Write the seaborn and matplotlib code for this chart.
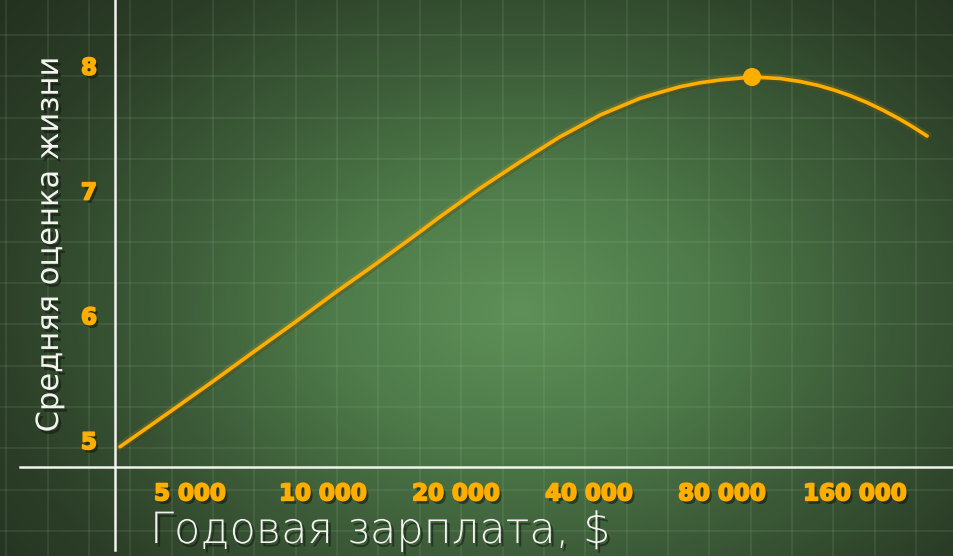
import numpy as np
import pandas as pd
import matplotlib
matplotlib.use("Agg")
import matplotlib.pyplot as plt
import matplotlib.patheffects as pe
from matplotlib.lines import Line2D
from matplotlib.colors import LinearSegmentedColormap
import seaborn as sns

# ---------------- data ----------------
salary = [3470, 4505, 5552, 6955, 8719, 10740, 13230, 16580, 18400, 22660,
          27920, 34390, 38170, 42360, 47010, 52170, 57910, 64270, 71340,
          79180, 93530, 108200, 120100, 131200, 142700, 155900, 170400,
          185100, 202300, 216500, 232900]
life_score = [4.946, 5.227, 5.454, 5.705, 5.954, 6.190, 6.416, 6.669, 6.789,
              7.017, 7.228, 7.430, 7.516, 7.604, 7.671, 7.738, 7.786, 7.831,
              7.863, 7.885, 7.909, 7.897, 7.873, 7.844, 7.807, 7.760, 7.704,
              7.643, 7.570, 7.508, 7.436]
peak_salary = [93530]
peak_score = [7.909]
x_ticks = [5000, 10000, 20000, 40000, 80000, 160000]
x_tick_labels = ["5 000", "10 000", "20 000", "40 000", "80 000", "160 000"]
y_ticks = [5, 6, 7, 8]
y_tick_labels = ["5", "6", "7", "8"]
x_label = "Годовая зарплата, $"
y_label = "Средняя оценка жизни"

df = pd.DataFrame({"salary": salary, "score": life_score})

# ---------------- style ----------------
W, H = 954, 556
ORANGE = "#FFAE00"
WHITE = "#F2F2EE"
plt.rcParams["font.family"] = ["DejaVu Sans"]

fig = plt.figure(figsize=(W / 100, H / 100), dpi=100)

# background: radial chalkboard gradient + decorative grid
bg = fig.add_axes([0, 0, 1, 1], zorder=0)
yy, xx = np.mgrid[0:H, 0:W]
r = np.sqrt(((xx - 520) / 600.0) ** 2 + ((yy - 310) / 420.0) ** 2)
cmap = LinearSegmentedColormap.from_list(
    "board", ["#5f9059", "#4f7c4a", "#3c5b38", "#2b3d27", "#212e1d"])
bg.imshow(np.clip(r / 1.2, 0, 1), cmap=cmap, vmin=0, vmax=1,
          extent=[0, W, H, 0], aspect="auto", interpolation="bilinear")
bg.set_xlim(0, W)
bg.set_ylim(H, 0)
step = 41.35
bg.set_xticks(np.arange(6.3, W, step))
bg.set_yticks(np.arange(-6.35 + step, H, step))
bg.grid(True, color="#a8cba2", alpha=0.13, lw=1.2)
bg.tick_params(length=0, labelbottom=False, labelleft=False)
for s in bg.spines.values():
    s.set_visible(False)

# main axes
ax = fig.add_axes([115 / W, 89 / H, (W - 115) / W, 467 / H], zorder=2)
ax.patch.set_alpha(0)
ax.set_xscale("log", base=2)

glow = [pe.SimpleLineShadow(offset=(0.8, -1.2), shadow_color="#0d160b", alpha=0.25, linewidth=4),
        pe.Stroke(linewidth=6, foreground=ORANGE, alpha=0.15),
        pe.Normal()]
sns.lineplot(data=df, x="salary", y="score", ax=ax, color=ORANGE, lw=2.6,
             sort=True, estimator=None, path_effects=glow, zorder=3,
             solid_joinstyle="round", solid_capstyle="round")
sns.scatterplot(x=peak_salary, y=peak_score, ax=ax, color=ORANGE, s=170,
                edgecolor="none", zorder=4)

ax.set_xlim(3381, 268000)
ax.set_ylim(4.784, 8.526)
ax.xaxis.set_minor_locator(matplotlib.ticker.NullLocator())
ax.set_xticks(x_ticks, labels=x_tick_labels)
ax.set_yticks(y_ticks, labels=y_tick_labels)
ax.tick_params(length=0, colors=ORANGE, labelsize=16.5)
ax.tick_params(axis="x", pad=11)
ax.tick_params(axis="y", pad=13)
shadow = [pe.withSimplePatchShadow(offset=(2, -2.5), shadow_rgbFace="#0e170c", alpha=0.55)]
heavy = [pe.SimplePatchShadow(offset=(2, -2.5), shadow_rgbFace="#0e170c", alpha=0.55),
         pe.Stroke(linewidth=1.3, foreground=ORANGE), pe.Normal()]
for lbl in ax.get_xticklabels() + ax.get_yticklabels():
    lbl.set_fontweight("bold")
    lbl.set_color(ORANGE)
    lbl.set_path_effects(heavy)

ax.set_xlabel(x_label, fontsize=31, color=WHITE, fontweight="light", ha="left")
ax.xaxis.set_label_coords((150 - 115) / (W - 115), (467 - 510) / 467)
ax.set_ylabel(y_label, fontsize=22, color=WHITE)
ax.yaxis.set_label_coords((64 - 115) / (W - 115), (467 - 245) / 467)
ax.xaxis.label.set_path_effects(shadow)
ax.yaxis.label.set_path_effects(shadow)

for side in ["top", "right"]:
    ax.spines[side].set_visible(False)
for side in ["left", "bottom"]:
    ax.spines[side].set_color(WHITE)
    ax.spines[side].set_linewidth(1.8)

# axis line extensions beyond the axes
fig.add_artist(Line2D([20 / W, 115 / W], [89 / H, 89 / H], color=WHITE, lw=1.8, zorder=3))
fig.add_artist(Line2D([115 / W, 115 / W], [6 / H, 89 / H], color=WHITE, lw=1.8, zorder=3))

fig.savefig("out.png", dpi=100)
